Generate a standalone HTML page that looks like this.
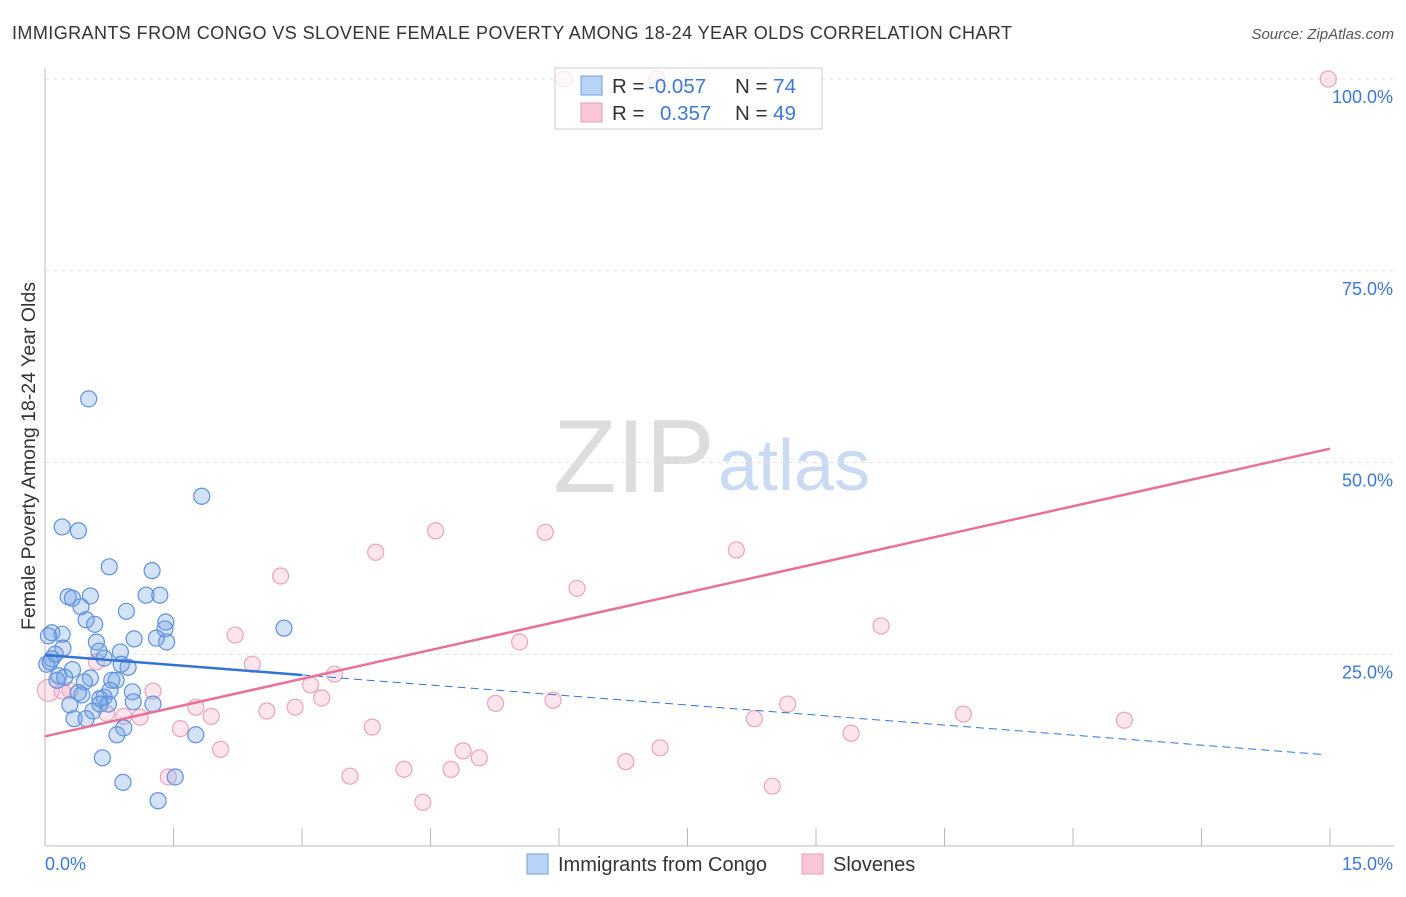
<!DOCTYPE html>
<html><head><meta charset="utf-8"><style>
body{margin:0;background:#fff;font-family:"Liberation Sans",sans-serif}
svg text{font-family:"Liberation Sans",sans-serif}
</style></head><body>
<svg id="chart" width="1406" height="892">
<text x="12" y="39" font-size="18" fill="#333" textLength="1000">IMMIGRANTS FROM CONGO VS SLOVENE FEMALE POVERTY AMONG 18-24 YEAR OLDS CORRELATION CHART</text>
<text x="1394" y="39" font-size="15" fill="#555" text-anchor="end" font-style="italic">Source: ZipAtlas.com</text>
<text x="35" y="456" font-size="19.5" fill="#333" text-anchor="middle" transform="rotate(-90 35 456)">Female Poverty Among 18-24 Year Olds</text>
<text x="553" y="492" font-size="104" fill="#ddd" font-family="Liberation Serif">ZIP</text>
<text x="718" y="490" font-size="72" fill="#c8dbf3">atlas</text>
<g id="grid"></g><g id="axes"></g><g id="pts"></g><g id="trend"></g>
<rect x="555" y="68" width="267" height="61" fill="rgba(255,255,255,0.75)" stroke="#ccc"/>
<rect x="581" y="76" width="21" height="19" fill="#b9d3f5" stroke="#6d9de0"/>
<rect x="581" y="103" width="21" height="19" fill="#f9c7d7" stroke="#eb9ab6"/>
<text x="612" y="93" font-size="20.5" fill="#333">R = <tspan x="648" fill="#3c78d8">-0.057</tspan><tspan x="735">N = </tspan><tspan fill="#3c78d8">74</tspan></text>
<text x="612" y="120" font-size="20.5" fill="#333">R = <tspan x="660" fill="#3c78d8">0.357</tspan><tspan x="735">N = </tspan><tspan fill="#3c78d8">49</tspan></text>
<rect x="527" y="854" width="21" height="20" fill="#b9d3f5" stroke="#6d9de0"/>
<text x="558" y="871" font-size="20" fill="#333">Immigrants from Congo</text>
<rect x="802" y="854" width="21" height="20" fill="#f9c7d7" stroke="#eb9ab6"/>
<text x="833" y="871" font-size="20" fill="#333">Slovenes</text>
</svg>
<script>
const yTicks=[25,50,75,100];
const yTickLabels=["25.0%","50.0%","75.0%","100.0%"];
const xTickCount=10;
const congoX=[0.51,1.83,0.20,0.39,0.75,1.25,0.27,0.32,0.53,1.18,1.34,0.42,0.95,0.48,1.41,0.58,1.40,2.79,0.08,0.20,0.04,1.04,1.30,1.42,0.60,0.21,0.63,0.88,0.12,0.08,0.69,0.89,0.97,0.02,0.32,0.16,0.53,0.78,0.83,0.46,1.02,0.76,0.43,0.39,0.69,0.64,1.03,1.26,0.29,0.74,0.56,0.34,0.48,0.92,0.84,1.76,0.67,1.52,0.91,1.32,0.14,0.06,0.23,0.64];
const congoY=[58.3,45.6,41.6,41.1,36.4,35.9,32.5,32.3,32.6,32.7,32.7,31.2,30.6,29.5,29.2,28.9,28.3,28.4,27.8,27.6,27.4,27.0,27.1,26.6,26.6,25.8,25.4,25.3,25.0,24.4,24.5,23.7,23.3,23.7,23.0,22.2,21.9,21.6,21.6,21.4,20.1,20.3,19.7,20.0,19.4,19.2,18.8,18.5,18.4,18.5,17.6,16.6,16.6,15.4,14.5,14.5,11.5,9.0,8.3,5.9,21.6,24.0,22.0,18.5];
const sloX=[6.06,7.14,14.98,4.56,5.84,3.86,8.07,2.75,6.21,9.76,2.22,5.54,2.42,3.38,0.60,3.10,3.23,1.26,0.29,0.20,0.04,5.26,5.93,8.67,2.92,2.59,1.76,1.94,0.92,1.11,0.72,8.28,10.72,12.60,3.82,1.58,9.41,2.05,4.88,7.18,5.07,6.78,1.44,4.19,4.74,3.56,8.49,4.41];
const sloY=[100,100,100,41.1,40.9,38.3,38.6,35.2,33.6,28.7,27.5,26.6,23.7,22.4,24.0,21.0,19.3,20.2,20.3,20.2,20.3,18.6,19.0,18.5,18.1,17.6,18.1,16.9,16.9,16.8,17.3,16.6,17.2,16.4,15.5,15.3,14.7,12.6,12.4,12.8,11.5,11.0,9.0,10.0,10.0,9.1,7.8,5.7];
const congoTrend=[24.9,-0.87];
const sloTrend=[14.3,2.5];
const NS="http://www.w3.org/2000/svg";
const X=v=>45+v/15*1285, Y=v=>846-v/100*767;
function mk(p,t,a){const e=document.createElementNS(NS,t);for(const k in a)e.setAttribute(k,a[k]);document.getElementById(p).appendChild(e);return e;}
yTicks.forEach((t,i)=>{
 const l=mk('grid','line',{x1:45,x2:1394,y1:Y(t),y2:Y(t),stroke:'#e3e3e3','stroke-dasharray':'4,4'});
 
 
 const tx=mk('grid','text',{x:1393,y:Y(t)+24,'font-size':18,fill:'#3c78d8','text-anchor':'end'});tx.textContent=yTickLabels[i];
 
 
});
let ax=mk('axes','line',{x1:45,x2:45,y1:68,y2:846,stroke:'#bbb'});


ax=mk('axes','line',{x1:45,x2:1394,y1:846,y2:846,stroke:'#bbb'});


for(let i=1;i<=xTickCount;i++){const t=mk('axes','line',{x1:X(i*1.5),x2:X(i*1.5),y1:828,y2:846,stroke:'#bbb'});
 
 }
let t0=mk('axes','text',{x:45,y:870,'font-size':18,fill:'#3c78d8'});t0.textContent='0.0%';


t0=mk('axes','text',{x:1393,y:870,'font-size':18,fill:'#3c78d8','text-anchor':'end'});t0.textContent='15.0%';


sloX.forEach((x,i)=>{const c=mk('pts','circle',{cx:X(x),cy:Y(sloY[i]),r:(i==20?11:8),fill:'rgba(244,160,190,0.28)',stroke:'#eca3bd','stroke-width':1.2});
 
 });
congoX.forEach((x,i)=>{const c=mk('pts','circle',{cx:X(x),cy:Y(congoY[i]),r:8,fill:'rgba(110,160,230,0.3)',stroke:'#5d91dd','stroke-width':1.2});
 
 });
const cf=x=>congoTrend[0]+congoTrend[1]*x, sf=x=>sloTrend[0]+sloTrend[1]*x;
let l=mk('trend','line',{x1:X(0),y1:Y(cf(0)),x2:X(3),y2:Y(cf(3)),stroke:'#3273d6','stroke-width':2.5});


l=mk('trend','line',{x1:X(3),y1:Y(cf(3)),x2:X(14.95),y2:Y(cf(14.95)),stroke:'#3273d6','stroke-width':1,'stroke-dasharray':'8,5'});


l=mk('trend','line',{x1:X(0),y1:Y(sf(0)),x2:X(15),y2:Y(sf(15)),stroke:'#e8709a','stroke-width':2.5});


</script>
</body></html>
